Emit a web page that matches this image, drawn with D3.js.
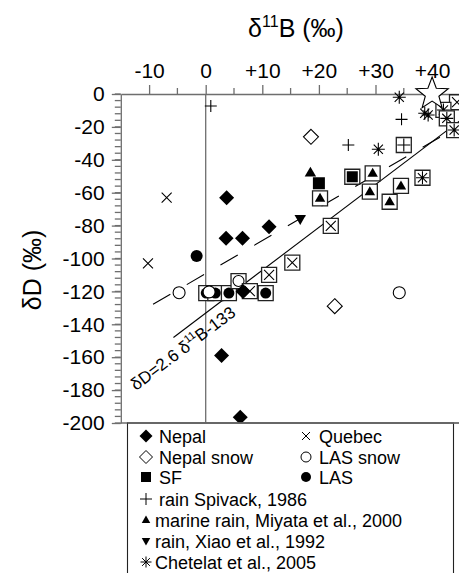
<!DOCTYPE html>
<html>
<head>
<meta charset="utf-8">
<script src="https://cdn.jsdelivr.net/npm/d3@7"></script>
<style>
  body { margin: 0; background: #fff; }
  svg { font-family: 'Liberation Sans', Arial, sans-serif; }
  .axis path, .axis line { stroke: #6e6e6e; stroke-width: 1.3; }
  .axis text { font-size: 21px; fill: #000; font-family: 'Liberation Sans', Arial, sans-serif; }
</style>
</head>
<body>
<div id="chart"></div>
<script>
// data: [delta11B, deltaD]
var nepal = [[3.7, -63], [11.2, -80.7], [3.6, -87.7], [6.5, -87.7], [6.6, -120], [2.8, -159], [6.1, -196.5]];
var nepalSnow = [[18.6, -26], [22.8, -129]];
var quebec = [[-6.9, -63], [-10.2, -103]];
var lasSnow = [[-4.7, -120.8], [34.2, -120.8]];
var sf = [[20, -54.3]];
var las = [[-1.6, -98.5]];
var rainSpivack = [[0.9, -7.3], [25.2, -31], [34.6, -15.4]];
var miyata = [[18.5, -47.8]];
var xiao = [[16.7, -76]];
var chetelat = [[30.5, -33.6], [34.2, -2], [38.7, -11.7], [39.3, -12.8]];

// boxed samples
var boxedSF = [[25.9, -50.3]];
var boxedLAS = [[0.1, -121], [1.7, -121], [4.1, -121], [10.6, -121]];
var boxedLasSnow = [[5.8, -113.7]];
var boxedQuebec = [[7.8, -119.8], [11.2, -110], [15.3, -102.5], [22.1, -80.2], [44.4, -5]];
var boxedSpivack = [[35, -31]];
var boxedMiyata = [[20.2, -63.4], [29.5, -48.2], [29.0, -59.4], [34.5, -55.9], [32.5, -65.5]];
var boxedChetelat = [[38.3, -50.9], [42, -9.7], [42.6, -14.8], [43.9, -21.9]];
var seawater = [[40, 0]];
var overlapSnow = [[0.6, -120.3]];

// fitted lines (end points)
var solidLine = [[-5.7, -148], [45, -16]];
var dashedLine = [[-9.3, -127.8], [44, -21]];

var xTicks = [-10, 0, 10, 20, 30, 40];
var xMinor = [-5, 5, 15, 25, 35];
var yTicks = [0, -20, -40, -60, -80, -100, -120, -140, -160, -180, -200];
var yMinor = d3.range(0, -201, -4);

var legendItems = [
  ['diamond', 'Nepal', 0, 0], ['cross', 'Quebec', 1, 0],
  ['odiamond', 'Nepal snow', 0, 1], ['ocircle', 'LAS snow', 1, 1],
  ['square', 'SF', 0, 2], ['circle', 'LAS', 1, 2],
  ['plus', 'rain Spivack, 1986', 0, 3],
  ['tri', 'marine rain, Miyata et al., 2000', 0, 4],
  ['dtri', 'rain, Xiao et al., 1992', 0, 5],
  ['ast', 'Chetelat et al., 2005', 0, 6]
];

var width = 459, height = 573;

var x = d3.scaleLinear().domain([-15, 45]).range([120.8, 460.4]);
var y = d3.scaleLinear().domain([0, -200]).range([94, 423]);

var svg = d3.select('#chart').append('svg')
  .attr('width', width)
  .attr('height', height);

svg.append('clipPath').attr('id', 'plotclip')
  .append('rect')
  .attr('x', x(-15)).attr('y', y(0) - 30)
  .attr('width', x(45) - x(-15)).attr('height', y(-200) - y(0) + 30);

// axes
var xAxis = svg.append('g')
  .attr('class', 'axis')
  .attr('transform', 'translate(0,' + y(0) + ')')
  .call(d3.axisTop(x).tickValues(xTicks).tickSize(9).tickSizeOuter(0)
    .tickFormat(function (d) { return d > 0 ? '+' + d : String(d); }));
xAxis.selectAll('text').attr('dy', '-0.2em');

xAxis.selectAll('.minor').data(xMinor).enter().append('line')
  .attr('class', 'minor')
  .attr('x1', function (d) { return x(d); })
  .attr('x2', function (d) { return x(d); })
  .attr('y1', 0).attr('y2', -6);

var yAxis = svg.append('g')
  .attr('class', 'axis')
  .attr('transform', 'translate(' + x(-15) + ',0)')
  .call(d3.axisLeft(y).tickValues(yTicks).tickSize(9).tickSizeOuter(0)
    .tickFormat(function (d) { return String(d); }));
yAxis.selectAll('text').attr('dx', '-0.2em');

yAxis.selectAll('.minor').data(yMinor).enter().append('line')
  .attr('class', 'minor')
  .attr('y1', function (d) { return y(d); })
  .attr('y2', function (d) { return y(d); })
  .attr('x1', 0).attr('x2', -6);

// bottom line and zero line
svg.append('line')
  .attr('x1', x(-15)).attr('x2', width)
  .attr('y1', y(-200)).attr('y2', y(-200))
  .style('stroke', '#6e6e6e').style('stroke-width', 1.3);

svg.append('line')
  .attr('x1', x(0)).attr('x2', x(0))
  .attr('y1', y(0)).attr('y2', y(-200))
  .style('stroke', '#6e6e6e').style('stroke-width', 1.3);

// axis titles
var title = svg.append('text')
  .attr('x', 296).attr('y', 37)
  .style('text-anchor', 'middle')
  .style('font-size', '25px');
title.append('tspan').text('δ');
title.append('tspan').attr('dy', -10).style('font-size', '16px').text('11');
title.append('tspan').attr('dy', 10).text('B (‰)');

svg.append('text')
  .attr('transform', 'translate(41,270) rotate(-90)')
  .style('text-anchor', 'middle')
  .style('font-size', '25px')
  .text('δD (‰)');

// lines
var line = d3.line()
  .x(function (d) { return x(d[0]); })
  .y(function (d) { return y(d[1]); });

var plot = svg.append('g').attr('clip-path', 'url(#plotclip)');

plot.append('path')
  .datum(solidLine)
  .attr('d', line)
  .style('fill', 'none').style('stroke', '#000').style('stroke-width', 1.1);

plot.append('path')
  .datum(dashedLine)
  .attr('d', line)
  .style('fill', 'none').style('stroke', '#000').style('stroke-width', 1.1)
  .style('stroke-dasharray', '20,19');

// regression label
var angle = Math.atan2(y(solidLine[1][1]) - y(solidLine[0][1]), x(solidLine[1][0]) - x(solidLine[0][0])) * 180 / Math.PI;
var lab = svg.append('text')
  .attr('transform', 'translate(' + x(-12.3) + ',' + y(-180.5) + ') rotate(' + angle + ')')
  .style('font-size', '17px');
lab.append('tspan').text('δD=2.6 δ');
lab.append('tspan').attr('dy', -7).style('font-size', '11px').text('11');
lab.append('tspan').attr('dy', 7).text('B-133');

// symbol shapes
function shape(type, r) {
  var p = d3.path();
  var h;
  if (type === 'diamond' || type === 'odiamond') {
    p.moveTo(0, -r); p.lineTo(r, 0); p.lineTo(0, r); p.lineTo(-r, 0); p.closePath();
  } else if (type === 'square' || type === 'box') {
    p.rect(-r, -r, 2 * r, 2 * r);
  } else if (type === 'circle' || type === 'ocircle') {
    p.arc(0, 0, r, 0, 2 * Math.PI);
  } else if (type === 'cross') {
    p.moveTo(-r, -r); p.lineTo(r, r); p.moveTo(r, -r); p.lineTo(-r, r);
  } else if (type === 'plus') {
    p.moveTo(-r, 0); p.lineTo(r, 0); p.moveTo(0, -r); p.lineTo(0, r);
  } else if (type === 'ast') {
    h = r * 0.7071;
    p.moveTo(-r, 0); p.lineTo(r, 0); p.moveTo(0, -r); p.lineTo(0, r);
    p.moveTo(-h, -h); p.lineTo(h, h); p.moveTo(h, -h); p.lineTo(-h, h);
  } else if (type === 'tri') {
    p.moveTo(0, -r); p.lineTo(r * 0.95, r * 0.65); p.lineTo(-r * 0.95, r * 0.65); p.closePath();
  } else if (type === 'dtri') {
    p.moveTo(0, r); p.lineTo(r * 0.95, -r * 0.65); p.lineTo(-r * 0.95, -r * 0.65); p.closePath();
  } else if (type === 'star') {
    for (var i = 0; i < 10; i++) {
      var rr = i % 2 === 0 ? r : r * 0.42;
      var a = -Math.PI / 2 + i * Math.PI / 5;
      if (i === 0) p.moveTo(rr * Math.cos(a), rr * Math.sin(a));
      else p.lineTo(rr * Math.cos(a), rr * Math.sin(a));
    }
    p.closePath();
  }
  return p.toString();
}

function styleFor(type) {
  if (type === 'diamond' || type === 'square' || type === 'circle' || type === 'tri' || type === 'dtri') {
    return { fill: '#000', stroke: 'none', sw: 0 };
  }
  if (type === 'odiamond' || type === 'ocircle' || type === 'box' || type === 'star') {
    return { fill: '#fff', stroke: '#000', sw: 1.1 };
  }
  return { fill: 'none', stroke: '#000', sw: 1.1 };
}

var sizes = { diamond: 7.5, odiamond: 7.5, square: 6, circle: 6, ocircle: 6, cross: 5, plus: 6, ast: 6.5, tri: 6, dtri: 6, star: 17 };
var innerSizes = { square: 5.5, circle: 5.5, ocircle: 5.5, cross: 5, plus: 6.5, ast: 6.5, tri: 5.5 };

function drawPoints(g, data, type, boxed) {
  var sel = g.selectAll(null).data(data).enter().append('g')
    .attr('transform', function (d) { return 'translate(' + x(d[0]) + ',' + y(d[1]) + ')'; });
  if (boxed) {
    sel.append('path')
      .attr('d', shape('box', 7.5))
      .style('fill', '#fff').style('stroke', '#222').style('stroke-width', 1.3);
  }
  var st = styleFor(type);
  sel.append('path')
    .attr('d', shape(type, boxed ? innerSizes[type] : sizes[type]))
    .style('fill', st.fill).style('stroke', st.stroke).style('stroke-width', st.sw);
}

var marks = svg.append('g').attr('clip-path', 'url(#plotclip)');

drawPoints(marks, boxedLAS, 'circle', true);
drawPoints(marks, boxedLasSnow, 'ocircle', true);
drawPoints(marks, boxedQuebec, 'cross', true);
drawPoints(marks, boxedSF, 'square', true);
drawPoints(marks, boxedSpivack, 'plus', true);
drawPoints(marks, boxedMiyata, 'tri', true);
drawPoints(marks, boxedChetelat, 'ast', true);

drawPoints(marks, overlapSnow, 'ocircle', false);
drawPoints(marks, lasSnow, 'ocircle', false);
drawPoints(marks, nepalSnow, 'odiamond', false);
drawPoints(marks, quebec, 'cross', false);
drawPoints(marks, sf, 'square', false);
drawPoints(marks, las, 'circle', false);
drawPoints(marks, rainSpivack, 'plus', false);
drawPoints(marks, miyata, 'tri', false);
drawPoints(marks, xiao, 'dtri', false);
drawPoints(marks, chetelat, 'ast', false);
drawPoints(marks, nepal, 'diamond', false);
drawPoints(svg, seawater, 'star', false);

// legend
var legend = svg.append('g');
legend.append('rect')
  .attr('x', 127.5).attr('y', y(-200))
  .attr('width', 326).attr('height', 200)
  .style('fill', 'none').style('stroke', '#222').style('stroke-width', 1.1);
legend.append('line')
  .attr('x1', 127.5).attr('x2', width)
  .attr('y1', y(-200)).attr('y2', y(-200))
  .style('stroke', '#6e6e6e').style('stroke-width', 1.3);

var legendSizes = { diamond: 6.5, odiamond: 6.5, square: 5, circle: 5, ocircle: 5, cross: 4, plus: 6, ast: 5.5, tri: 4.5, dtri: 4.5 };
var rowY = [436, 457, 477, 499, 520, 541, 562];

legendItems.forEach(function (item) {
  var sx = item[2] === 0 ? 146 : 306;
  var g = legend.append('g').attr('transform', 'translate(' + sx + ',' + rowY[item[3]] + ')');
  var st = styleFor(item[0]);
  g.append('path')
    .attr('d', shape(item[0], legendSizes[item[0]]))
    .style('fill', st.fill).style('stroke', st.stroke).style('stroke-width', 1);
  g.append('text')
    .attr('x', item[0] === 'tri' || item[0] === 'dtri' || item[0] === 'ast' ? 9 : 13)
    .attr('y', 6.5)
    .style('font-size', '18px')
    .text(item[1]);
});
</script>
</body>
</html>
